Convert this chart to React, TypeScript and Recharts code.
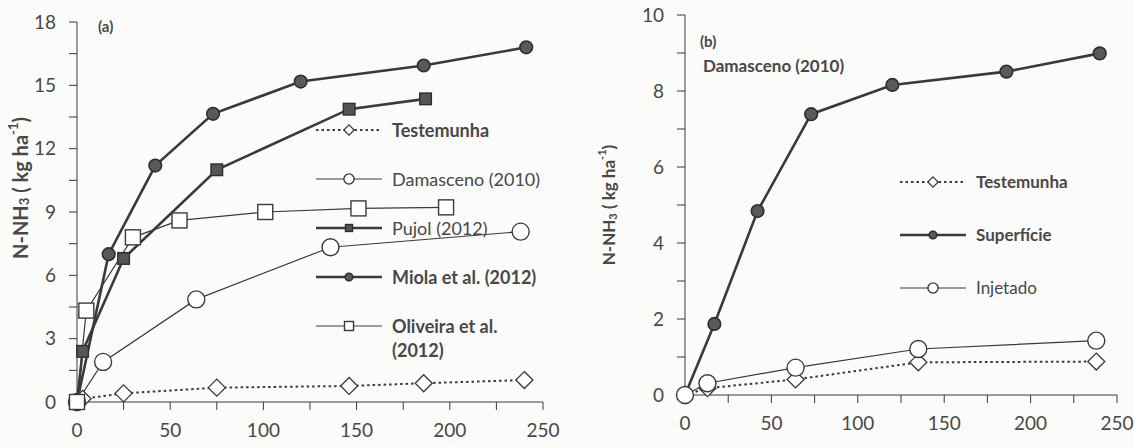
import { LineChart, Line, XAxis, YAxis, Legend } from "recharts";

// painel (a) – dias x N-NH3 (kg/ha)
const aTestemunhaDias = [0, 3, 25, 75, 146, 186, 240];
const aTestemunhaNH3 = [0, 0.15, 0.41, 0.68, 0.76, 0.89, 1.04];
const aDamascenoDias = [0, 14, 64, 136, 238];
const aDamascenoNH3 = [0, 1.9, 4.86, 7.33, 8.07];
const aPujolDias = [0, 3, 25, 75, 146, 187];
const aPujolNH3 = [0, 2.4, 6.8, 11.0, 13.87, 14.36];
const aMiolaDias = [0, 17, 42, 73, 120, 186, 241];
const aMiolaNH3 = [0, 7.0, 11.2, 13.65, 15.18, 15.94, 16.8];
const aOliveiraDias = [0, 5, 30, 55, 101, 151, 198];
const aOliveiraNH3 = [0, 4.33, 7.8, 8.6, 9.0, 9.17, 9.22];

// painel (b) – Damasceno (2010)
const bTestemunhaDias = [0, 13, 64, 135, 238];
const bTestemunhaNH3 = [0, 0.18, 0.41, 0.86, 0.88];
const bSuperficieDias = [0, 17, 42, 73, 120, 186, 240];
const bSuperficieNH3 = [0, 1.87, 4.84, 7.39, 8.16, 8.51, 8.99];
const bInjetadoDias = [0, 13, 64, 135, 238];
const bInjetadoNH3 = [0, 0.31, 0.72, 1.21, 1.43];

const aNames = ["Testemunha", "Damasceno (2010)", "Pujol (2012)", "Miola et al. (2012)", "Oliveira et al. (2012)"];
const bNames = ["Testemunha", "Superfície", "Injetado"];

const xTicks = [0, 25, 50, 75, 100, 125, 150, 175, 200, 225, 250];
const aYTicks = [0, 1.5, 3, 4.5, 6, 7.5, 9, 10.5, 12, 13.5, 15, 16.5, 18];
const bYTicks = [0, 1, 2, 3, 4, 5, 6, 7, 8, 9, 10];

const zip = (xs: number[], ys: number[]) => xs.map((x, i) => ({ dias: x, nh3: ys[i] }));

const INK = "#3a3a3a";
const TEXT = "#484848";
const FONT = "Lato, 'Open Sans', sans-serif";

type Shape = "circle" | "disc" | "square" | "block" | "diamond";

function Marker({ shape, cx, cy, small }: { shape: Shape; cx: number; cy: number; small?: boolean }) {
  const k = small ? 0.6 : 1;
  if (shape === "circle") return <circle cx={cx} cy={cy} r={8.5 * k} fill="#fff" stroke={INK} strokeWidth={1.4} />;
  if (shape === "disc") return <circle cx={cx} cy={cy} r={6.3 * k} fill="#5a5a5a" stroke="#2e2e2e" strokeWidth={1.6} />;
  if (shape === "square") {
    const h = 7.5 * k;
    return <rect x={cx - h} y={cy - h} width={h * 2} height={h * 2} fill="#fff" stroke={INK} strokeWidth={1.4} />;
  }
  if (shape === "block") {
    const h = 5.8 * k;
    return <rect x={cx - h} y={cy - h} width={h * 2} height={h * 2} fill="#555" stroke="#2e2e2e" strokeWidth={1.4} />;
  }
  const d = 8.5 * k;
  return (
    <path
      d={`M${cx},${cy - d}L${cx + d},${cy}L${cx},${cy + d}L${cx - d},${cy}Z`}
      fill="#fff"
      stroke={INK}
      strokeWidth={1.3}
    />
  );
}

type Style = { shape: Shape; width: number; dash?: string; bold?: boolean; wrap?: number };

const styles: Record<string, Style> = {
  Testemunha: { shape: "diamond", width: 2, dash: "2.5 3", bold: true },
  "Damasceno (2010)": { shape: "circle", width: 1.2 },
  "Pujol (2012)": { shape: "block", width: 2.6 },
  "Miola et al. (2012)": { shape: "disc", width: 2.6, bold: true },
  "Oliveira et al. (2012)": { shape: "square", width: 1.2, bold: true, wrap: 130 },
  Superfície: { shape: "disc", width: 2.6, bold: true },
  Injetado: { shape: "circle", width: 1.2 },
};

function series(name: string, data: { dias: number; nh3: number }[]) {
  const s = styles[name];
  return (
    <Line
      key={name}
      name={name}
      data={data}
      dataKey="nh3"
      stroke={INK}
      strokeWidth={s.width}
      strokeDasharray={s.dash}
      isAnimationActive={false}
      dot={(p: any) => <Marker key={`${name}-${p.index}`} shape={s.shape} cx={p.cx} cy={p.cy} />}
      activeDot={false}
    />
  );
}

const legendContent = (order: string[], gap: number, fontSize: number) => (props: any) => {
  const items = [...(props.payload || [])].sort((a: any, b: any) => order.indexOf(a.value) - order.indexOf(b.value));
  return (
    <div style={{ position: "relative", fontFamily: FONT, color: TEXT }}>
      {items.map((e: any, i: number) => {
        const s = styles[e.value];
        return (
          <div key={e.value} style={{ position: "absolute", top: i * gap, left: 0, display: "flex", alignItems: "flex-start" }}>
            <svg width={68} height={24} style={{ flex: "none" }}>
              <line x1={0} y1={12} x2={66} y2={12} stroke={INK} strokeWidth={s.width} strokeDasharray={s.dash} />
              <Marker shape={s.shape} cx={33} cy={12} small />
            </svg>
            <span
              style={{
                marginLeft: 8,
                fontSize,
                lineHeight: "24px",
                fontWeight: s.bold ? 700 : 400,
                width: s.wrap,
                whiteSpace: s.wrap ? "normal" : "nowrap",
              }}
            >
              {e.value}
            </span>
          </div>
        );
      })}
    </div>
  );
};

function YLabel({ x, y, size }: { x: number; y: number; size: number }) {
  return (
    <text
      x={x}
      y={y}
      transform={`rotate(-90 ${x} ${y})`}
      textAnchor="middle"
      dominantBaseline="central"
      fill={TEXT}
      fontFamily={FONT}
      fontWeight={700}
      fontSize={size}
    >
      N-NH
      <tspan fontSize={size * 0.65} dy={4}>3</tspan>
      <tspan dy={-4}>{" ( kg ha"}</tspan>
      <tspan fontSize={size * 0.65} dy={-7}>-1</tspan>
      <tspan dy={7}>)</tspan>
    </text>
  );
}

const axisProps = {
  stroke: INK,
  tickSize: 8,
  tick: { fill: TEXT, fontSize: 19, fontFamily: FONT },
};

export default function App() {
  return (
    <div style={{ position: "absolute", left: 0, top: 0, width: 1134, height: 447, background: "#fbfbf9" }}>
      <div style={{ position: "absolute", left: 0, top: 0 }}>
        <LineChart width={570} height={447} margin={{ top: 22, right: 27, bottom: 0, left: 0 }}>
          <XAxis
            {...axisProps}
            dataKey="dias"
            type="number"
            domain={[0, 250]}
            ticks={xTicks}
            interval={0}
            height={45}
            tickMargin={14}
            tickFormatter={(v: number) => (v % 50 === 0 ? String(v) : "")}
          />
          <YAxis
            {...axisProps}
            type="number"
            domain={[0, 18]}
            ticks={aYTicks}
            interval={0}
            width={77}
            tickMargin={13}
            tickFormatter={(v: number) => (v % 3 === 0 ? String(v) : "")}
            label={() => <YLabel x={20} y={188} size={20} />}
          />
          {series("Testemunha", zip(aTestemunhaDias, aTestemunhaNH3))}
          {series("Damasceno (2010)", zip(aDamascenoDias, aDamascenoNH3))}
          {series("Pujol (2012)", zip(aPujolDias, aPujolNH3))}
          {series("Miola et al. (2012)", zip(aMiolaDias, aMiolaNH3))}
          {series("Oliveira et al. (2012)", zip(aOliveiraDias, aOliveiraNH3))}
          <Legend
            layout="vertical"
            align="center"
            verticalAlign="middle"
            width={250}
            height={260}
            wrapperStyle={{ left: 316, top: 118 }}
            content={legendContent(aNames, 49, 18)}
          />
        </LineChart>
        <div style={{ position: "absolute", left: 98, top: 17, fontFamily: FONT, fontSize: 15, fontWeight: 700, color: TEXT }}>
          (a)
        </div>
      </div>

      <div style={{ position: "absolute", left: 575, top: 0 }}>
        <LineChart width={559} height={447} margin={{ top: 15, right: 17, bottom: 0, left: 0 }}>
          <XAxis
            {...axisProps}
            dataKey="dias"
            type="number"
            domain={[0, 250]}
            ticks={xTicks}
            interval={0}
            height={52}
            tickMargin={14}
            tickFormatter={(v: number) => (v % 50 === 0 ? String(v) : "")}
          />
          <YAxis
            {...axisProps}
            type="number"
            domain={[0, 10]}
            ticks={bYTicks}
            interval={0}
            width={110}
            tickMargin={13}
            tickFormatter={(v: number) => (v % 2 === 0 ? String(v) : "")}
            label={() => <YLabel x={33} y={205} size={17} />}
          />
          {series("Testemunha", zip(bTestemunhaDias, bTestemunhaNH3))}
          {series("Superfície", zip(bSuperficieDias, bSuperficieNH3))}
          {series("Injetado", zip(bInjetadoDias, bInjetadoNH3))}
          <Legend
            layout="vertical"
            align="center"
            verticalAlign="middle"
            width={220}
            height={160}
            wrapperStyle={{ left: 325, top: 170 }}
            content={legendContent(bNames, 53, 17)}
          />
        </LineChart>
        <div style={{ position: "absolute", left: 125, top: 32, fontFamily: FONT, fontSize: 15, fontWeight: 700, color: TEXT }}>
          (b)
        </div>
        <div style={{ position: "absolute", left: 128, top: 55, fontFamily: FONT, fontSize: 17, fontWeight: 700, color: TEXT }}>
          Damasceno (2010)
        </div>
      </div>
    </div>
  );
}
